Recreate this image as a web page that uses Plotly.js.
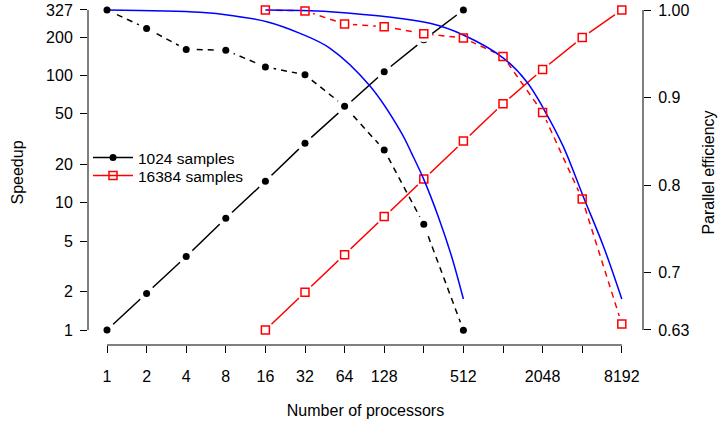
<!DOCTYPE html>
<html>
<head>
<meta charset="utf-8">
<script src="https://cdn.plot.ly/plotly-3.0.1.min.js"></script>
<style>html,body{margin:0;padding:0;background:#fff;}#chart{width:722px;height:425px;}</style>
</head>
<body>
<div id="chart"></div>
<script>
// ---- data ----
const procs1024 = [1, 2, 4, 8, 16, 32, 64, 128, 256, 512];
const speedup1024 = [1, 1.94, 3.78, 7.56, 14.75, 29.4, 56.4, 106.9, 190.5, 327];
const efficiency1024 = [1.0, 0.979, 0.955, 0.954, 0.935, 0.926, 0.890, 0.840, 0.755, 0.634];

const procs16384 = [16, 32, 64, 128, 256, 512, 1024, 2048, 4096, 8192];
const speedup16384 = [1, 1.98, 3.90, 7.79, 15.4, 30.5, 60.0, 111.5, 198.6, 327];
const efficiency16384 = [1.0, 0.999, 0.984, 0.981, 0.973, 0.968, 0.947, 0.883, 0.784, 0.641];

const modelProcs1024 = [1, 5.09, 9.07, 16.4, 29.3, 49.6, 99.8, 174, 207, 254, 330, 417, 512];
const modelEff1024 = [1.0, 0.9974, 0.9935, 0.9866, 0.9733, 0.9562, 0.9131, 0.859, 0.8362, 0.8076, 0.7638, 0.7181, 0.6697];
const modelProcs16384 = [16, 49.6, 285, 512, 1030, 1550, 2074, 2943, 4177, 5927, 8192];
const modelEff16384 = [1.0, 0.998, 0.9848, 0.9714, 0.9451, 0.918, 0.8877, 0.8438, 0.7866, 0.7303, 0.6697];

const xTickVals = [1, 2, 4, 8, 16, 32, 64, 128, 256, 512, 1024, 2048, 4096, 8192];
const xTickText = ['1', '2', '4', '8', '16', '32', '64', '128', '', '512', '', '2048', '', '8192'];
const yTickVals = [1, 2, 5, 10, 20, 50, 100, 200, 327];
const yTickText = ['1', '2', '5', '10', '20', '50', '100', '200', '327'];
const y2TickVals = [0.6343, 0.7, 0.8, 0.9, 1.0];
const y2TickText = ['0.63', '0.7', '0.8', '0.9', '1.00'];

const seriesNames = ['1024 samples', '16384 samples'];

// ---- styling ----
const FONT = 'Liberation Sans, Arial, Helvetica, sans-serif';
const BLACK = '#000000', RED = '#FF0000', BLUE = '#0000FF';
const xRange = [-0.1444, 4.0745];
const yRange = [-0.1176, 2.593];
const y2Range = [0.61714, 1.01143];

function fx(v) { return (Math.log10(v) - xRange[0]) / (xRange[1] - xRange[0]); }
function fy(v) { return (Math.log10(v) - yRange[0]) / (yRange[1] - yRange[0]); }
function fy2(v) { return (v - y2Range[0]) / (y2Range[1] - y2Range[0]); }

const mask = (x, y, yaxis) => ({
  x: x, y: y, yaxis: yaxis, mode: 'markers', showlegend: false, hoverinfo: 'skip',
  marker: {symbol: 'circle', size: 17, color: '#ffffff', line: {width: 0}}
});

const blackMarker = {symbol: 'circle', size: 7, color: BLACK, line: {width: 0}};
const redMarker = {symbol: 'square-open', size: 8, color: RED, line: {width: 1.5, color: RED}};

const traces = [
  // efficiency lines (dashed)
  {x: procs1024, y: efficiency1024, yaxis: 'y2', mode: 'lines', showlegend: false,
   line: {color: BLACK, width: 1.5, dash: '6px,5px'}},
  mask(procs1024, efficiency1024, 'y2'),
  {x: procs16384, y: efficiency16384, yaxis: 'y2', mode: 'lines', showlegend: false,
   line: {color: RED, width: 1.5, dash: '6px,5px'}},
  mask(procs16384, efficiency16384, 'y2'),
  // speedup lines (solid)
  {x: procs1024, y: speedup1024, yaxis: 'y', mode: 'lines+markers', name: seriesNames[0], legend: 'legend',
   line: {color: BLACK, width: 1.5}, marker: blackMarker},
  mask(procs1024, speedup1024, 'y'),
  {x: procs16384, y: speedup16384, yaxis: 'y', mode: 'lines+markers', name: seriesNames[1], legend: 'legend2',
   line: {color: RED, width: 1.5}, marker: redMarker},
  mask(procs16384, speedup16384, 'y'),
  // model efficiency curves
  {x: modelProcs1024, y: modelEff1024, yaxis: 'y2', mode: 'lines', showlegend: false,
   line: {color: BLUE, width: 1.5, shape: 'spline', smoothing: 1}},
  {x: modelProcs16384, y: modelEff16384, yaxis: 'y2', mode: 'lines', showlegend: false,
   line: {color: BLUE, width: 1.5, shape: 'spline', smoothing: 1}},
  // markers on top
  {x: procs1024, y: efficiency1024, yaxis: 'y2', mode: 'markers', showlegend: false, marker: blackMarker},
  {x: procs16384, y: efficiency16384, yaxis: 'y2', mode: 'markers', showlegend: false, marker: redMarker},
  {x: procs1024, y: speedup1024, yaxis: 'y', mode: 'markers', showlegend: false, marker: blackMarker},
  {x: procs16384, y: speedup16384, yaxis: 'y', mode: 'markers', showlegend: false, marker: redMarker}
];

const axisCommon = {
  showgrid: false, zeroline: false, showline: false,
  ticks: 'outside', ticklen: 7, tickwidth: 1, tickcolor: '#000',
  tickfont: {family: FONT, size: 16, color: '#000'}
};

const legendCommon = {
  xanchor: 'left', yanchor: 'middle', x: 0.0,
  bgcolor: 'rgba(0,0,0,0)', borderwidth: 0,
  font: {family: FONT, size: 15.5, color: '#000'}, itemwidth: 40
};

const layout = {
  width: 722, height: 425,
  margin: {l: 88, r: 79, t: 0, b: 80, pad: 0},
  paper_bgcolor: '#fff', plot_bgcolor: '#fff',
  font: {family: FONT, size: 16, color: '#000'},
  xaxis: Object.assign({}, axisCommon, {
    type: 'log', range: xRange, tickmode: 'array', tickvals: xTickVals, ticktext: xTickText,
    ticklabelstandoff: 10,
    title: {text: 'Number of processors', font: {family: FONT, size: 16}, standoff: 20}
  }),
  yaxis: Object.assign({}, axisCommon, {
    type: 'log', range: yRange, tickmode: 'array', tickvals: yTickVals, ticktext: yTickText,
    ticklabelstandoff: 4,
    title: {text: 'Speedup', font: {family: FONT, size: 16}, standoff: 18}
  }),
  yaxis2: Object.assign({}, axisCommon, {
    overlaying: 'y', side: 'right', anchor: 'x',
    range: y2Range, tickmode: 'array', tickvals: y2TickVals, ticktext: y2TickText,
    ticklabelstandoff: 4,
    title: {text: 'Parallel efficiency', font: {family: FONT, size: 16}, standoff: 14}
  }),
  legend: Object.assign({}, legendCommon, {y: (345 - 158) / 345}),
  legend2: Object.assign({}, legendCommon, {y: (345 - 176) / 345}),
  shapes: [
    {type: 'line', xref: 'paper', yref: 'paper', x0: fx(1), x1: fx(8192), y0: 0, y1: 0, line: {color: '#000', width: 1}},
    {type: 'line', xref: 'paper', yref: 'paper', x0: 0, x1: 0, y0: fy(1), y1: fy(327), line: {color: '#000', width: 1}},
    {type: 'line', xref: 'paper', yref: 'paper', x0: 1, x1: 1, y0: fy2(0.6343), y1: fy2(1.0), line: {color: '#000', width: 1}}
  ],
  showlegend: true
};

Plotly.newPlot('chart', traces, layout, {staticPlot: true, displayModeBar: false});
</script>
</body>
</html>
